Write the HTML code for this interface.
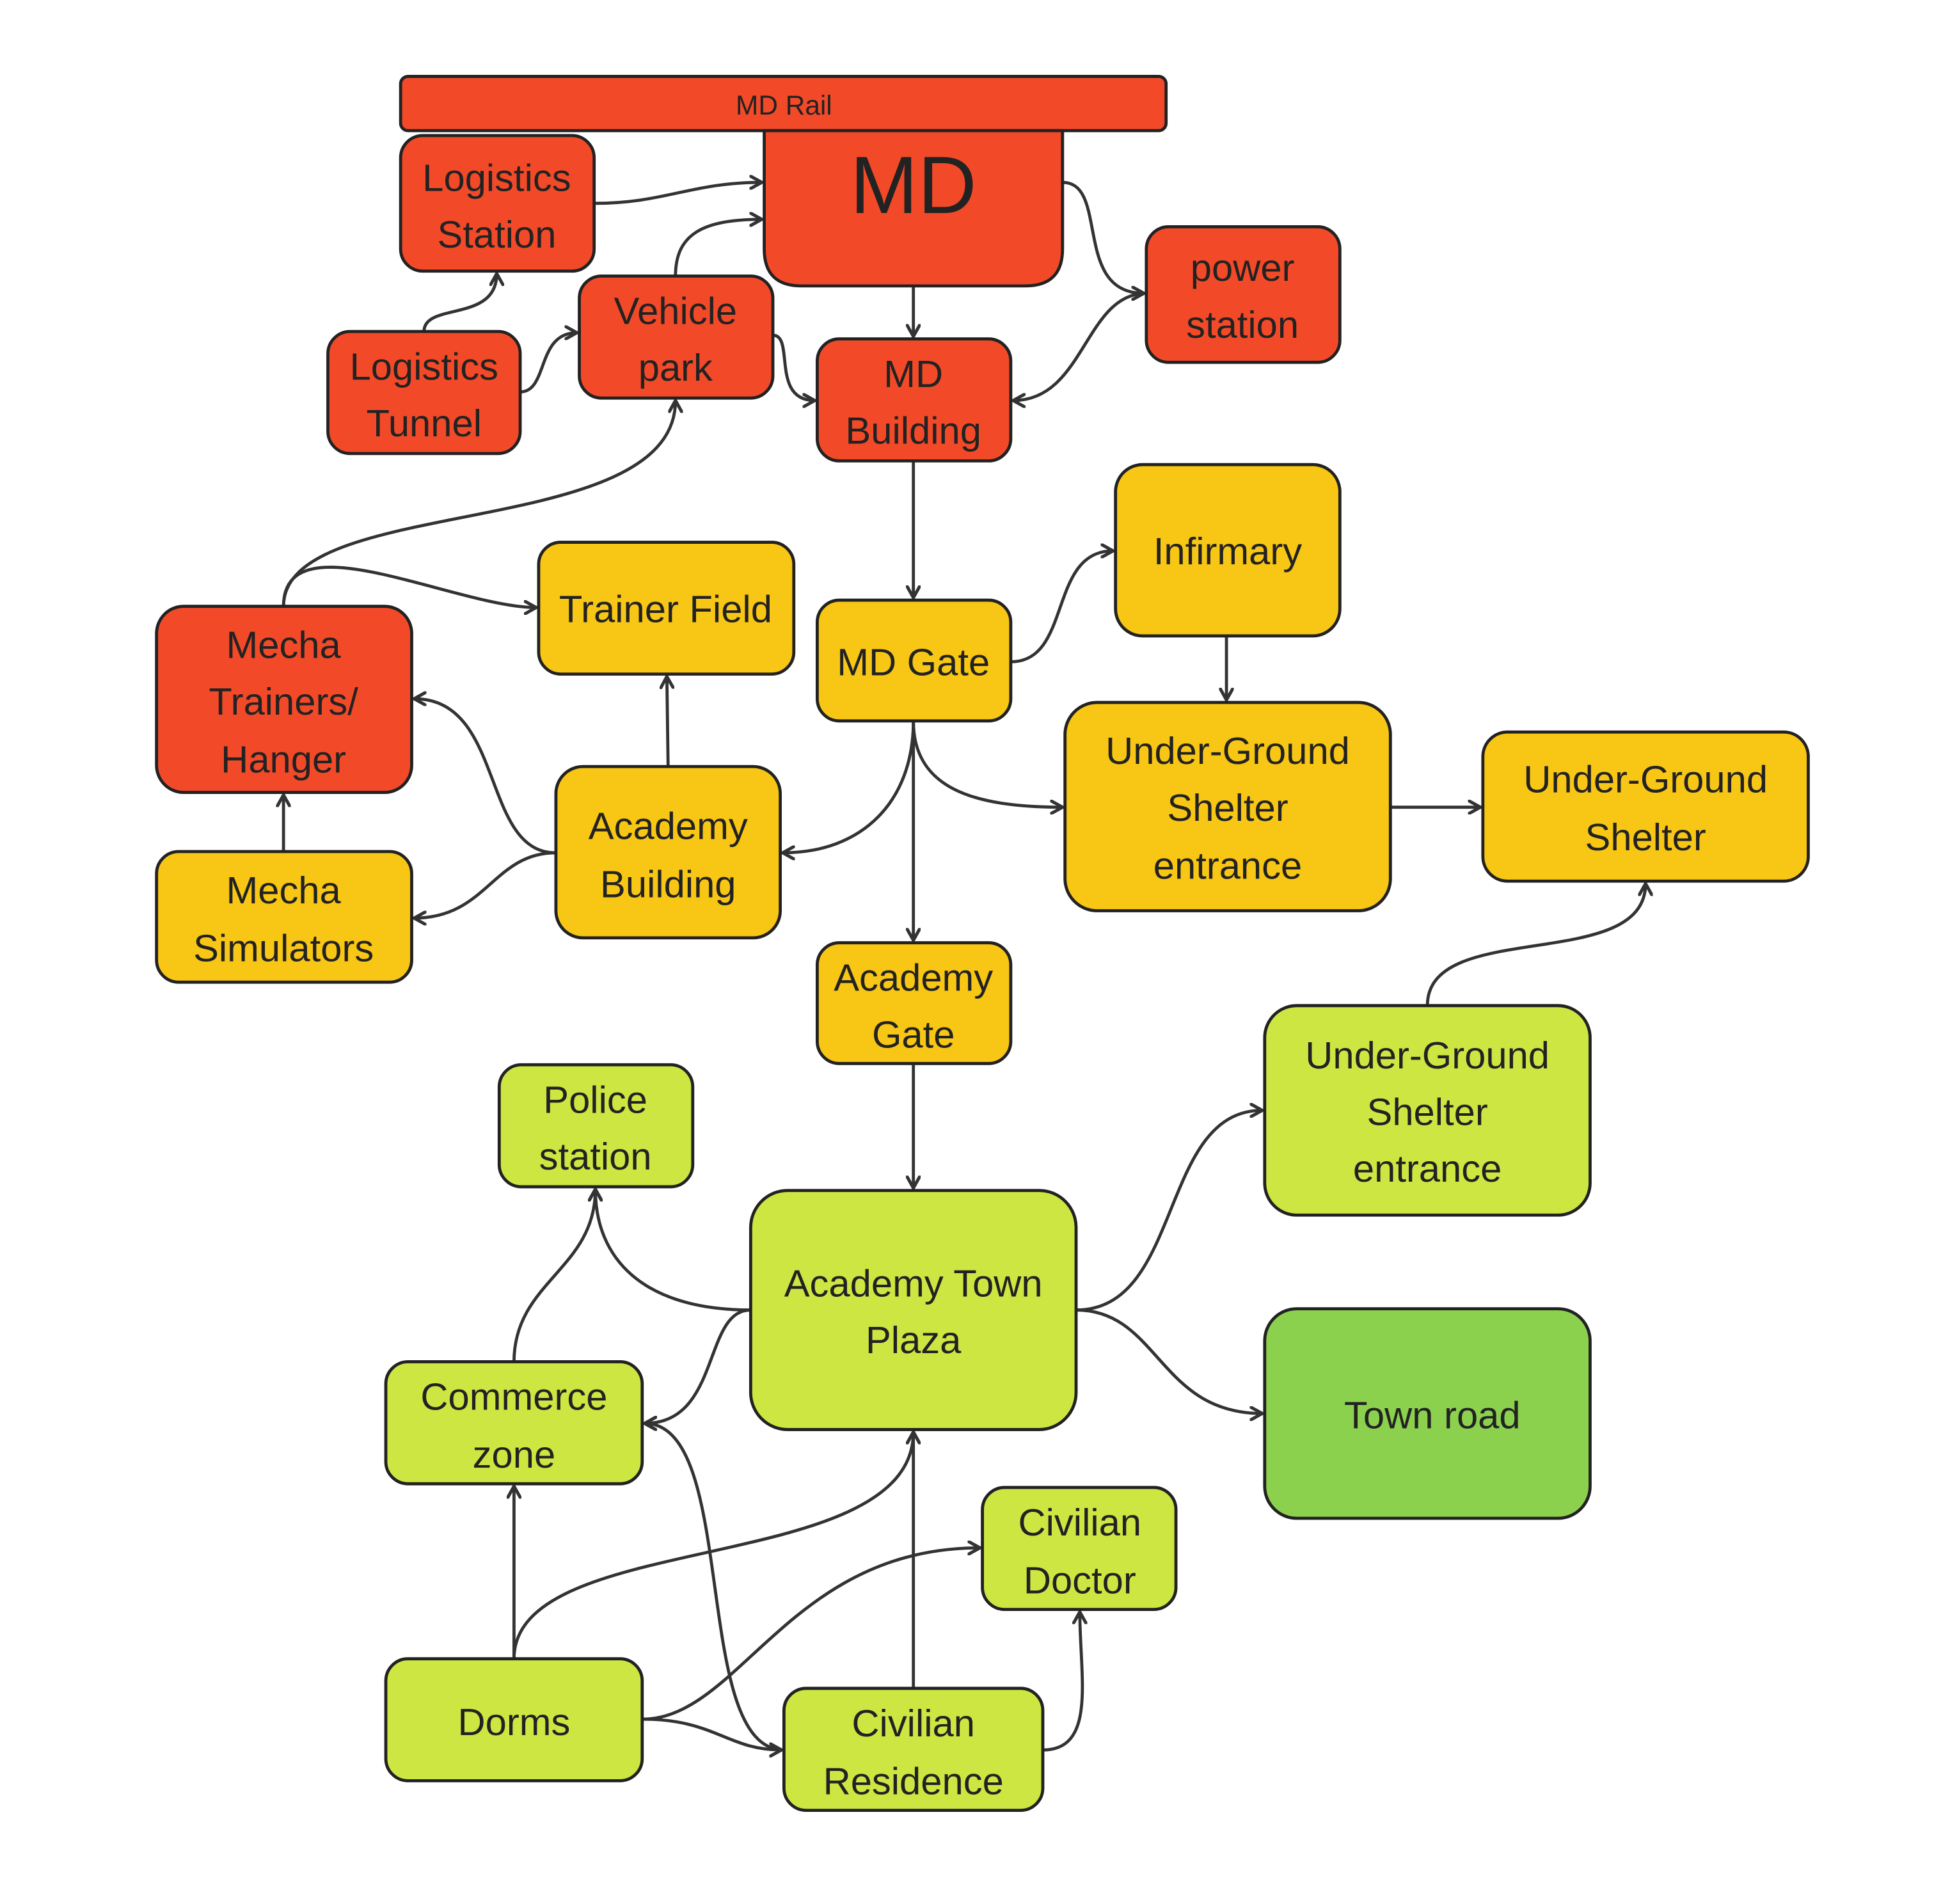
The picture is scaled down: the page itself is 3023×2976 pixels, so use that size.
<!DOCTYPE html>
<html><head><meta charset="utf-8"><style>
html,body{margin:0;padding:0;background:#fff;}
svg{display:block;}
text{font-family:"Liberation Sans",sans-serif;fill:#222;text-anchor:middle;}
</style></head><body>
<svg width="3023" height="2976" viewBox="0 0 1569 1545" preserveAspectRatio="none" xmlns="http://www.w3.org/2000/svg">
<defs>
<marker id="a" viewBox="0 0 12 12" refX="10" refY="6" markerWidth="12" markerHeight="12" markerUnits="userSpaceOnUse" orient="auto">
<path d="M1,1 L10,6 L1,11" fill="none" stroke="#333" stroke-width="2.6" stroke-linejoin="round" stroke-linecap="round"/>
</marker>
</defs>
<rect width="1569" height="1545" fill="#fff"/>
<g fill="none" stroke="#333" stroke-width="2.5" marker-end="url(#a)">
<path d="M482,165 C540,165 560,148 618,148"/>
<path d="M548,224 C548,190 570,178 618,178"/>
<path d="M344,269 C344,245 403,262 403,222"/>
<path d="M422,318 C445,318 435,270 468,270"/>
<path d="M627,272 C645,272 625,325 661,325"/>
<path d="M741,232 L741,273"/>
<path d="M862,148 C900,148 870,238 928,238"/>
<path d="M930,238 C880,238 880,325 822,325"/>
<path d="M741,374 L741,485"/>
<path d="M820,537 C870,537 850,447 903,447"/>
<path d="M995,516 L995,568"/>
<path d="M741,585 C741,640 790,655 862,655"/>
<path d="M741,585 C741,650 700,692 635,692"/>
<path d="M741,585 L741,763"/>
<path d="M1128,655 L1201,655"/>
<path d="M741,863 L741,964"/>
<path d="M542,622 L541,549"/>
<path d="M451,692 C390,692 410,567 336,567"/>
<path d="M451,692 C400,692 395,745 336,745"/>
<path d="M230,691 L230,645"/>
<path d="M230,492 C230,400 548,440 548,325"/>
<path d="M230,492 C230,420 370,493 435,493"/>
<path d="M1158,816 C1158,745 1335,790 1335,717"/>
<path d="M873,1063 C960,1063 940,901 1024,901"/>
<path d="M873,1063 C940,1063 940,1147 1024,1147"/>
<path d="M609,1063 C520,1063 483,1020 483,965"/>
<path d="M609,1063 C570,1063 585,1155 523,1155"/>
<path d="M417,1105 C417,1040 483,1030 483,965"/>
<path d="M417,1346 L417,1206"/>
<path d="M417,1346 C417,1240 741,1280 741,1162"/>
<path d="M521,1395 C600,1395 640,1256 795,1256"/>
<path d="M521,1395 C580,1395 590,1420 634,1420"/>
<path d="M636,1420 C560,1420 600,1155 523,1155"/>
<path d="M741,1370 L741,1162"/>
<path d="M846,1420 C890,1420 876,1360 876,1308"/>
</g>
<g stroke="#222" stroke-width="2.5">
<rect x="325" y="62" width="621" height="44" rx="6" fill="#F24A28"/>
<path d="M620,106 L862,106 L862,202 Q862,232 832,232 L650,232 Q620,232 620,202 Z" fill="#F24A28"/>
<rect x="325" y="110" width="157" height="110" rx="18" fill="#F24A28"/>
<rect x="266" y="269" width="156" height="99" rx="18" fill="#F24A28"/>
<rect x="470" y="224" width="157" height="99" rx="18" fill="#F24A28"/>
<rect x="663" y="275" width="157" height="99" rx="18" fill="#F24A28"/>
<rect x="930" y="184" width="157" height="110" rx="18" fill="#F24A28"/>
<rect x="127" y="492" width="207" height="151" rx="22" fill="#F24A28"/>
<rect x="905" y="377" width="182" height="139" rx="22" fill="#F8C614"/>
<rect x="437" y="440" width="207" height="107" rx="18" fill="#F8C614"/>
<rect x="663" y="487" width="157" height="98" rx="18" fill="#F8C614"/>
<rect x="127" y="691" width="207" height="106" rx="18" fill="#F8C614"/>
<rect x="451" y="622" width="182" height="139" rx="22" fill="#F8C614"/>
<rect x="864" y="570" width="264" height="169" rx="26" fill="#F8C614"/>
<rect x="1203" y="594" width="264" height="121" rx="20" fill="#F8C614"/>
<rect x="663" y="765" width="157" height="98" rx="18" fill="#F8C614"/>
<rect x="405" y="864" width="157" height="99" rx="18" fill="#CDE642"/>
<rect x="1026" y="816" width="264" height="170" rx="26" fill="#CDE642"/>
<rect x="609" y="966" width="264" height="194" rx="30" fill="#CDE642"/>
<rect x="1026" y="1062" width="264" height="170" rx="26" fill="#8BD14E"/>
<rect x="313" y="1105" width="208" height="99" rx="18" fill="#CDE642"/>
<rect x="797" y="1207" width="157" height="99" rx="18" fill="#CDE642"/>
<rect x="313" y="1346" width="208" height="99" rx="18" fill="#CDE642"/>
<rect x="636" y="1370" width="210" height="99" rx="18" fill="#CDE642"/>
</g>
<g font-size="31">
<text x="636" y="93" font-size="22">MD Rail</text>
<text x="741" y="173" font-size="66">MD</text>
<text x="403" y="155">Logistics</text><text x="403" y="201">Station</text>
<text x="344" y="308">Logistics</text><text x="344" y="354">Tunnel</text>
<text x="548" y="263">Vehicle</text><text x="548" y="309">park</text>
<text x="741" y="314">MD</text><text x="741" y="360">Building</text>
<text x="1008" y="228">power</text><text x="1008" y="274">station</text>
<text x="996" y="458">Infirmary</text>
<text x="540" y="505">Trainer Field</text>
<text x="741" y="548">MD Gate</text>
<text x="230" y="534">Mecha</text><text x="230" y="580">Trainers/</text><text x="230" y="627">Hanger</text>
<text x="230" y="733">Mecha</text><text x="230" y="780">Simulators</text>
<text x="542" y="681">Academy</text><text x="542" y="728">Building</text>
<text x="996" y="620">Under-Ground</text><text x="996" y="666">Shelter</text><text x="996" y="713">entrance</text>
<text x="1335" y="643">Under-Ground</text><text x="1335" y="690">Shelter</text>
<text x="741" y="804">Academy</text><text x="741" y="850">Gate</text>
<text x="483" y="903">Police</text><text x="483" y="949">station</text>
<text x="1158" y="867">Under-Ground</text><text x="1158" y="913">Shelter</text><text x="1158" y="959">entrance</text>
<text x="741" y="1052">Academy Town</text><text x="741" y="1098">Plaza</text>
<text x="1162" y="1159">Town road</text>
<text x="417" y="1144">Commerce</text><text x="417" y="1191">zone</text>
<text x="876" y="1246">Civilian</text><text x="876" y="1293">Doctor</text>
<text x="417" y="1408">Dorms</text>
<text x="741" y="1409">Civilian</text><text x="741" y="1456">Residence</text>
</g>
</svg>
</body></html>
